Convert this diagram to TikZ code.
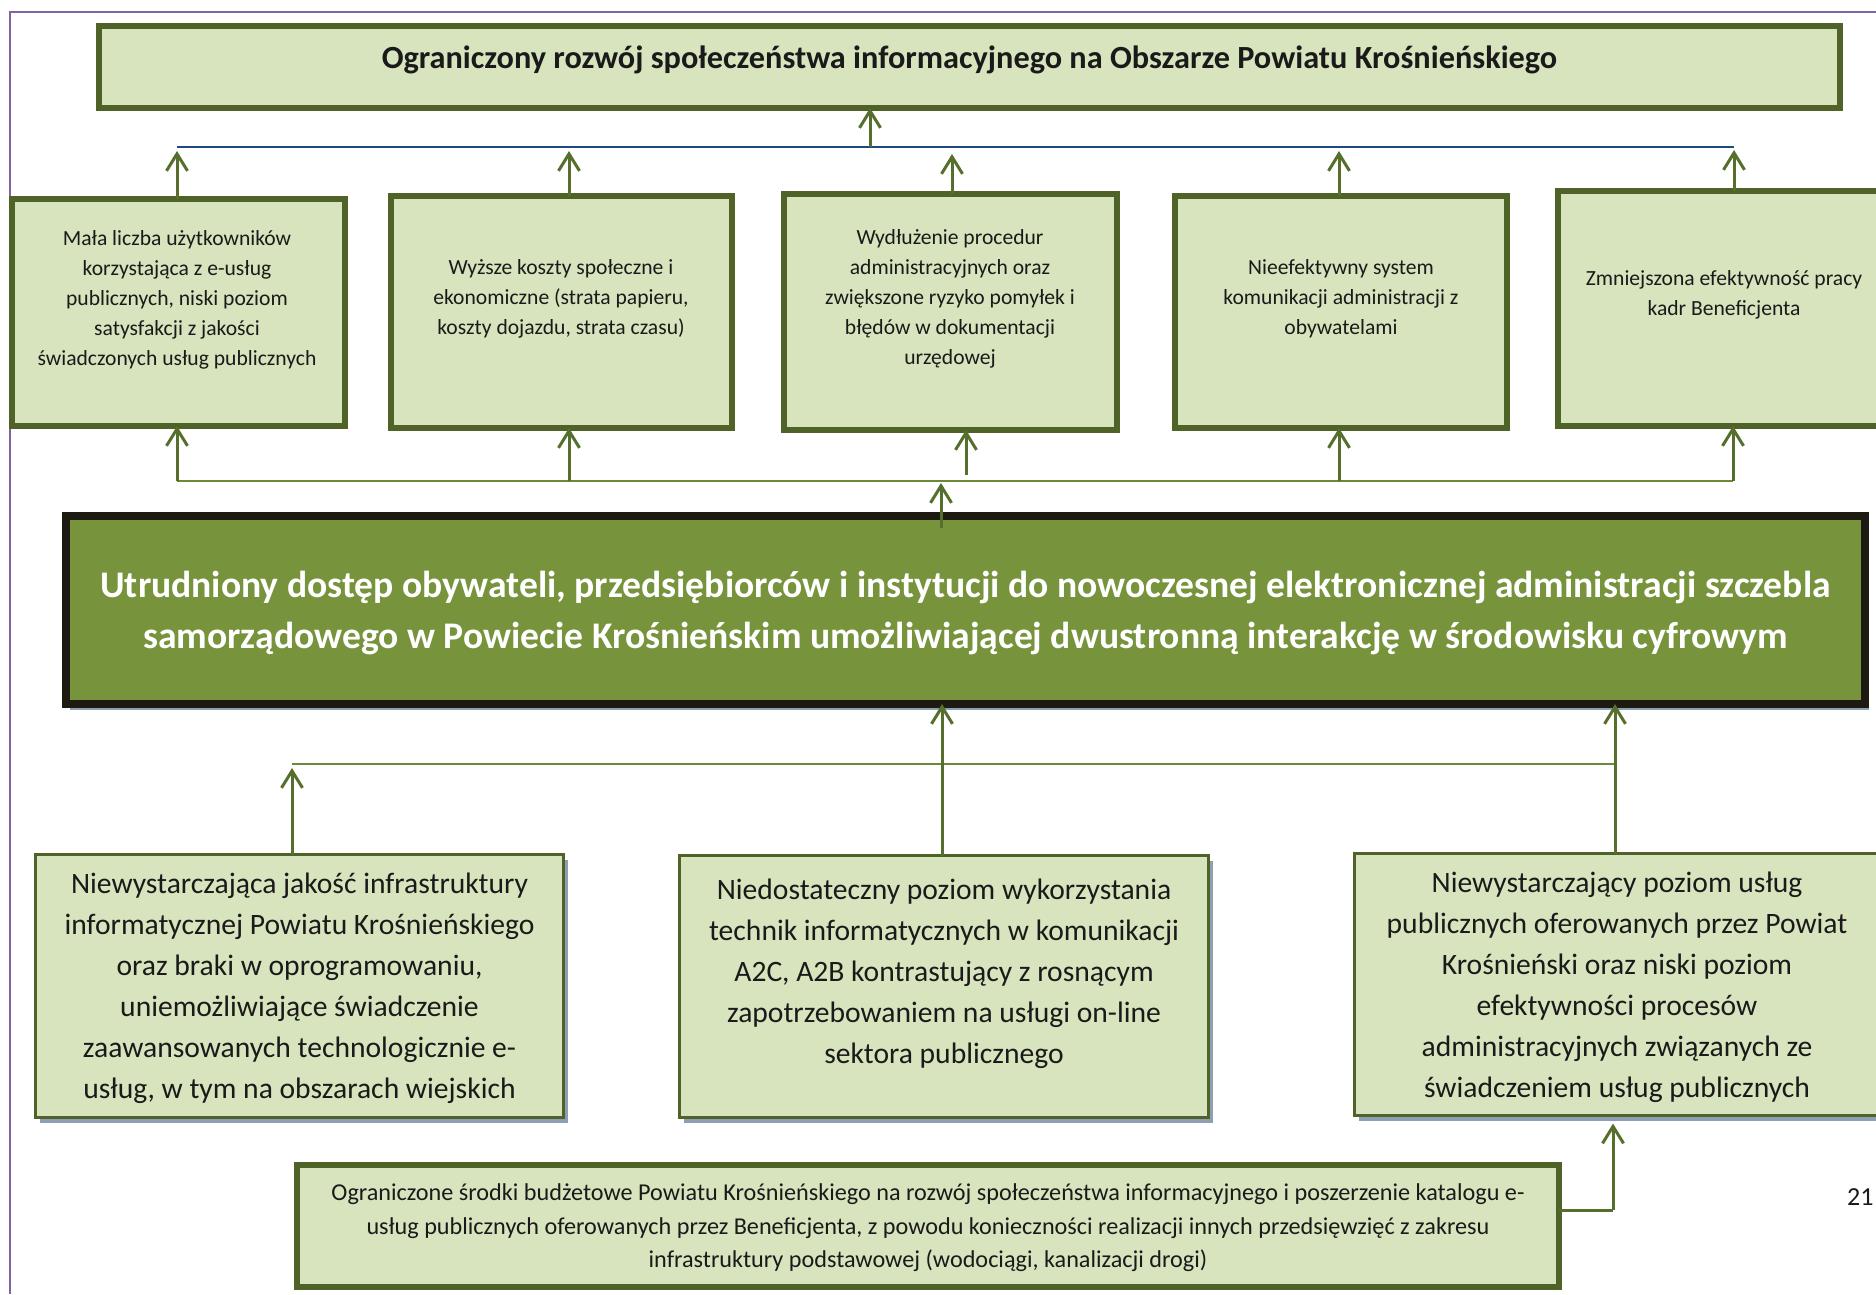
\documentclass[tikz,border=0pt]{standalone}
\usepackage{fontspec}
\setmainfont{Carlito}
\usetikzlibrary{arrows.meta,shadows}
\definecolor{boxfill}{HTML}{D7E4BD}
\definecolor{boxline}{HTML}{4F6228}
\definecolor{mainfill}{HTML}{77933C}
\definecolor{mainline}{HTML}{1D1B11}
\definecolor{shadowc}{HTML}{8E9EB4}
\definecolor{pagec}{HTML}{8064A2}
\definecolor{busblue}{HTML}{1F497D}
\definecolor{busgreen}{HTML}{6B8A38}
\definecolor{arrowc}{HTML}{566F2C}
\definecolor{txt}{HTML}{1A1A1A}
\begin{document}
\begin{tikzpicture}[x=1pt,y=-1pt,
  thickbox/.style={draw=boxline,fill=boxfill,line width=6pt,inner sep=0pt,outer sep=0pt},
  thinbox/.style={draw=boxline,fill=boxfill,line width=2.5pt,inner sep=0pt,outer sep=0pt,
    drop shadow={shadow xshift=4pt,shadow yshift=-5pt,fill=shadowc,opacity=1}},
  mainbox/.style={draw=mainline,fill=mainfill,line width=8pt,inner sep=0pt,outer sep=0pt,
    drop shadow={shadow xshift=4pt,shadow yshift=-6pt,fill=shadowc,opacity=1}},
  smalltxt/.style={align=center,inner sep=0pt,text=txt,font=\fontsize{21.6}{30}\selectfont},
  midtxt/.style={align=center,inner sep=0pt,text=txt,font=\fontsize{29.6}{41}\selectfont},
  bottxt/.style={align=center,inner sep=0pt,text=txt,font=\fontsize{24.2}{33.5}\selectfont},
  arr/.style={draw=arrowc,line width=3pt,-{Straight Barb[length=17pt,width=21pt,line width=3pt]}},
  busb/.style={draw=busblue,line width=2pt},
  busg/.style={draw=busgreen,line width=2.2pt},
  plain/.style={draw=arrowc,line width=3pt}
]
\useasboundingbox (0,0) rectangle (1876,1294);
\clip (0,0) rectangle (1876,1294);
\fill[white] (0,0) rectangle (1876,1294);
% page frame
\draw[pagec,line width=2pt] (10,1294) -- (10,12) -- (1876,12);

% top box
\node[thickbox,minimum width=1741pt,minimum height=82pt] (T) at (969.5,67) {};
\node[inner sep=0pt,text=txt,font=\fontsize{32.3}{38}\bfseries] (Tt) at (969.5,60)
  {Ograniczony rozwój społeczeństwa informacyjnego na Obszarze Powiatu Krośnieńskiego};

% row of effects
\node[thickbox,minimum width=333pt,minimum height=227pt] (B1) at (178.5,312.5) {};
\node[thickbox,minimum width=341pt,minimum height=232pt] (B2) at (561.5,312) {};
\node[thickbox,minimum width=333pt,minimum height=236pt] (B3) at (950.5,312) {};
\node[thickbox,minimum width=332pt,minimum height=232pt] (B4) at (1341,312) {};
\node[thickbox,minimum width=332pt,minimum height=235pt] (B5) at (1724,308.5) {};
\node[smalltxt] (B1t) at (177,300) {Mała liczba użytkowników\\korzystająca z e-usług\\publicznych, niski poziom\\satysfakcji z jakości\\świadczonych usług publicznych};
\node[smalltxt] (B2t) at (561,299) {Wyższe koszty społeczne i\\ekonomiczne (strata papieru,\\koszty dojazdu, strata czasu)};
\node[smalltxt] (B3t) at (950,299) {Wydłużenie procedur\\administracyjnych oraz\\zwiększone ryzyko pomyłek i\\błędów w dokumentacji\\urzędowej};
\node[smalltxt] (B4t) at (1341,299) {Nieefektywny system\\komunikacji administracji z\\obywatelami};
\node[smalltxt] (B5t) at (1724,295) {Zmniejszona efektywność pracy\\kadr Beneficjenta};

% main problem
\node[mainbox,minimum width=1799pt,minimum height=188pt] (M) at (965.5,610) {};
\node[align=center,inner sep=0pt,text=white,font=\fontsize{37.6}{51}\bfseries] (Mt) at (965.5,613)
  {Utrudniony dostęp obywateli, przedsiębiorców i instytucji do nowoczesnej elektronicznej administracji szczebla\\samorządowego w Powiecie Krośnieńskim umożliwiającej dwustronną interakcję w środowisku cyfrowym};

% causes
\node[thinbox,minimum width=528pt,minimum height=263pt] (L) at (299.5,986) {};
\node[thinbox,minimum width=529pt,minimum height=262pt] (C) at (944,986.5) {};
\node[thinbox,minimum width=525pt,minimum height=262pt] (R) at (1617,984.5) {};
\node[midtxt] (Lt) at (299.5,988) {Niewystarczająca jakość infrastruktury\\informatycznej Powiatu Krośnieńskiego\\oraz braki w oprogramowaniu,\\uniemożliwiające świadczenie\\zaawansowanych technologicznie e-\\usług, w tym na obszarach wiejskich};
\node[midtxt] (Ct) at (944,974) {Niedostateczny poziom wykorzystania\\technik informatycznych w komunikacji\\A2C, A2B kontrastujący z rosnącym\\zapotrzebowaniem na usługi on-line\\sektora publicznego};
\node[midtxt] (Rt) at (1617,987) {Niewystarczający poziom usług\\publicznych oferowanych przez Powiat\\Krośnieński oraz niski poziom\\efektywności procesów\\administracyjnych związanych ze\\świadczeniem usług publicznych};

% bottom cause
\node[thickbox,minimum width=1262pt,minimum height=122pt] (Bt) at (928,1226) {};
\node[bottxt] (Btt) at (928,1228) {Ograniczone środki budżetowe Powiatu Krośnieńskiego na rozwój społeczeństwa informacyjnego i poszerzenie katalogu e-\\usług publicznych oferowanych przez Beneficjenta, z powodu konieczności realizacji innych przedsięwzięć z zakresu\\infrastruktury podstawowej (wodociągi, kanalizacji drogi)};

% page number
\node[anchor=west,inner sep=0pt,text=txt,font=\fontsize{26}{30}\selectfont] (pg) at (1847,1197) {21};

% upper bus (blue)
\coordinate (ub1) at (177,147);
\coordinate (ub2) at (569,147);
\coordinate (ub3) at (952,147);
\coordinate (ub4) at (1339,147);
\coordinate (ub5) at (1734,147);
\coordinate (ubT) at (870,147);
\draw[busb] (ub1) -- (ub5);
\draw[arr] (ubT) -- (ubT |- T.south);
\draw[arr] (ub1 |- B1.north) -- ([yshift=-4pt]ub1);
\draw[arr] (ub2 |- B2.north) -- ([yshift=-4pt]ub2);
\draw[arr] (ub3 |- B3.north) -- ([yshift=-7pt]ub3);
\draw[arr] (ub4 |- B4.north) -- ([yshift=-4pt]ub4);
\draw[arr] (ub5 |- B5.north) -- ([yshift=-3pt]ub5);

% middle bus (green)
\coordinate (mb1) at (177,481);
\coordinate (mb2) at (569,481);
\coordinate (mb3) at (966,481);
\coordinate (mb4) at (1339,481);
\coordinate (mb5) at (1733,481);
\coordinate (mbM) at (941,481);
\draw[busg] (mb1) -- (mb5);
\draw[arr] (mb1) -- (mb1 |- B1.south);
\draw[arr] (mb2) -- (mb2 |- B2.south);
\draw[arr] ([yshift=6pt]mb3) -- (mb3 |- B3.south);
\draw[arr] (mb4) -- (mb4 |- B4.south);
\draw[arr] (mb5) -- (mb5 |- B5.south);
\draw[arr] ([yshift=-12pt]mbM |- M.north) -- ([yshift=-2pt]mbM);

% lower bus (green)
\coordinate (lb1) at (292,764);
\coordinate (lbC) at (942,764);
\coordinate (lbR) at (1615,764);
\draw[busg] (lb1) -- (lbR);
\draw[arr] (lb1 |- L.north) -- ([yshift=-4pt]lb1);
\draw[arr] (lbC |- C.north) -- (lbC |- M.south);
\draw[arr] (lbR |- R.north) -- (lbR |- M.south);

% from bottom cause
\coordinate (bk) at (1613,1210);
\draw[plain] (Bt.east |- bk) -- (bk);
\draw[arr] (bk) -- ([yshift=-8pt]bk |- R.south);
\end{tikzpicture}
\end{document}
